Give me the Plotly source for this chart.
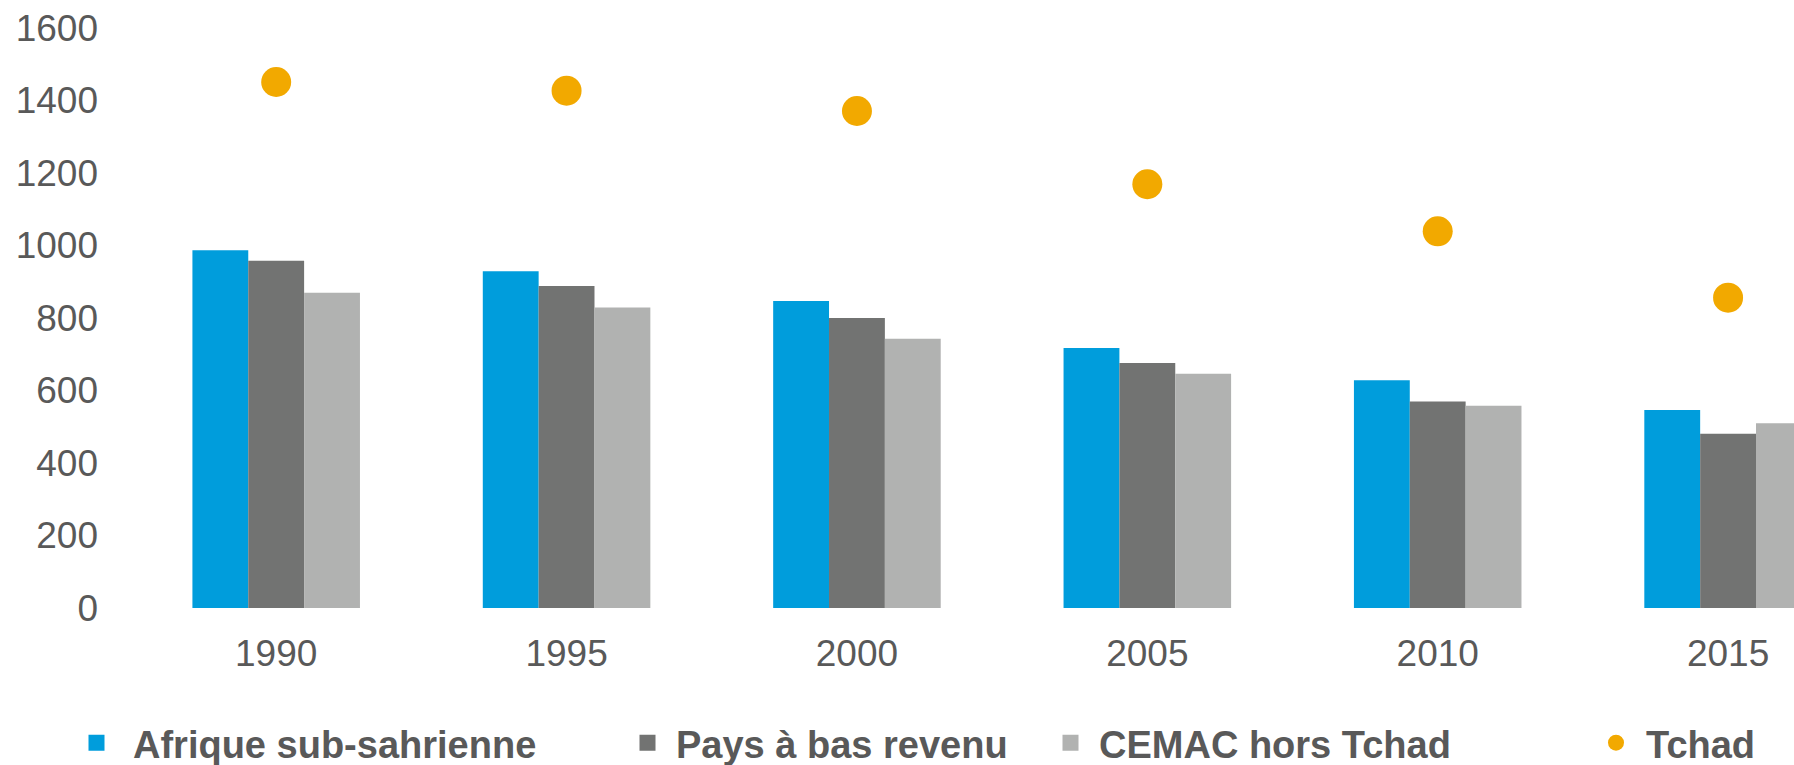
import plotly.graph_objects as go

years = ["1990", "1995", "2000", "2005", "2010", "2015"]
afrique = [987, 929, 847, 717, 628, 546]
pays_bas = [958, 888, 800, 676, 570, 481]
cemac = [870, 829, 743, 646, 558, 510]
tchad = [1451, 1427, 1371, 1169, 1039, 856]

names = ["Afrique sub-sahrienne", "Pays à bas revenu", "CEMAC hors Tchad", "Tchad"]
colors = ["#009DDC", "#727372", "#B1B2B1", "#F2A900"]
text_color = "#595959"
FONT = "Liberation Sans, Arial, sans-serif"

W, H = 1794, 765

fig = go.Figure()
for vals, name, col in zip([afrique, pays_bas, cemac], names[:3], colors[:3]):
    fig.add_trace(go.Bar(x=years, y=vals, name=name, marker=dict(color=col, line=dict(width=0)),
                         showlegend=False))

fig.add_trace(go.Scatter(x=years, y=tchad, mode="markers", name=names[3],
                         marker=dict(color=colors[3], size=30, line=dict(width=0)),
                         legend="legend4"))

# legend entries for the bar series (larger square symbols)
legend_ids = ["legend", "legend2", "legend3"]
for name, col, lid in zip(names[:3], colors[:3], legend_ids):
    fig.add_trace(go.Scatter(x=[None], y=[None], mode="markers", name=name,
                             marker=dict(color=col, size=16, symbol="square"),
                             legend=lid, showlegend=True))

leg_font = dict(family=FONT, size=38, color=text_color, weight="bold")
leg_common = dict(xref="container", yref="container", xanchor="left", yanchor="middle",
                  y=1 - 743 / H, bgcolor="rgba(0,0,0,0)", borderwidth=0,
                  font=leg_font, orientation="h")
leg_x0 = [60, 619, 1042, 1586]
leg_itemwidth = [63, 47, 47, 50]
legs = {}
for i, (x0, iw) in enumerate(zip(leg_x0, leg_itemwidth)):
    key = "legend" if i == 0 else f"legend{i+1}"
    legs[key] = dict(leg_common, x=x0 / W, itemwidth=iw)

fig.update_layout(
    width=W, height=H,
    margin=dict(l=131, r=0, t=28, b=157, autoexpand=False),
    paper_bgcolor="white", plot_bgcolor="white",
    barmode="group", bargap=0.423, bargroupgap=0,
    font=dict(family=FONT, color=text_color),
    xaxis=dict(type="category", range=[-0.5, 5.227], showgrid=False, zeroline=False,
               showline=False, ticks="", tickfont=dict(size=37, color=text_color),
               ticklabelstandoff=20, fixedrange=True),
    yaxis=dict(range=[0, 1600], tickvals=[0, 200, 400, 600, 800, 1000, 1200, 1400, 1600],
               showgrid=False, zeroline=False, showline=False, ticks="",
               tickfont=dict(size=37, color=text_color), ticklabelstandoff=32, fixedrange=True),
    **legs,
)

fig.write_html("out.html", config={"displayModeBar": False},
               post_script="document.body.style.margin='0';document.body.style.overflow='hidden';")
